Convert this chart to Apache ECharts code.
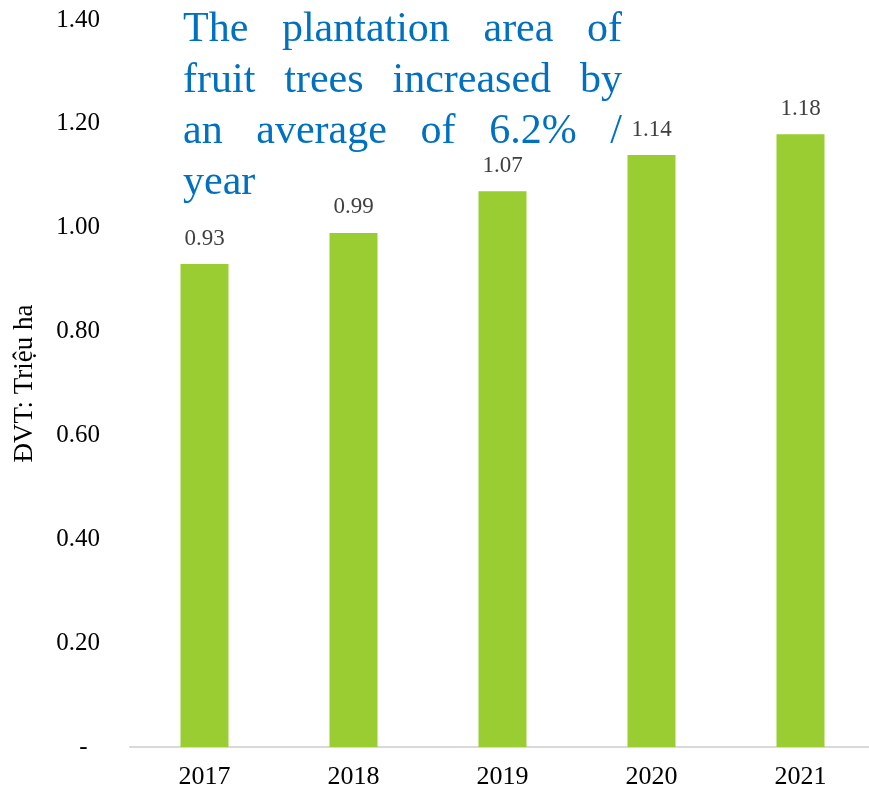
<!DOCTYPE html>
<html>
<head>
<meta charset="utf-8">
<script src="https://cdn.jsdelivr.net/npm/echarts@6/dist/echarts.min.js"></script>
<style>
  html, body { margin: 0; padding: 0; background: #ffffff; }
  #chart { width: 869px; height: 791px; }
</style>
</head>
<body>
<div id="chart"></div>
<script>
// Fruit tree plantation area by year (million ha)
const years = ['2017', '2018', '2019', '2020', '2021'];
const areas = [0.93, 0.99, 1.07, 1.14, 1.18];
const yTicks = [0, 0.2, 0.4, 0.6, 0.8, 1.0, 1.2, 1.4];
const headlineLines = [
  ['The', 'plantation', 'area', 'of'],
  ['fruit', 'trees', 'increased', 'by'],
  ['an', 'average', 'of', '6.2%', '/'],
  ['year']
];

const SERIF = '"Liberation Serif", "Times New Roman", serif';
const HEAD_FONT_SIZE = 42;
const HEAD_FONT = HEAD_FONT_SIZE + 'px ' + SERIF;

// Build a justified text block (last line left-aligned) as graphic text elements
function justifiedBlock(lines, left, top, boxWidth, lineHeight) {
  const ctx = document.createElement('canvas').getContext('2d');
  ctx.font = HEAD_FONT;
  const elems = [];
  lines.forEach((words, li) => {
    const widths = words.map(w => ctx.measureText(w).width);
    const total = widths.reduce((a, b) => a + b, 0);
    const isLast = li === lines.length - 1;
    const gap = (isLast || words.length < 2) ? ctx.measureText(' ').width
      : (boxWidth - total) / (words.length - 1);
    let x = left;
    words.forEach((w, wi) => {
      elems.push({
        type: 'text',
        left: x,
        top: top + li * lineHeight,
        style: { text: w, font: HEAD_FONT, fill: '#0070C0' }
      });
      x += widths[wi] + gap;
    });
  });
  return elems;
}

const chart = echarts.init(document.getElementById('chart'), null, { renderer: 'canvas' });

chart.setOption({
  backgroundColor: '#ffffff',
  animation: false,
  grid: {
    left: 130, top: 20, width: 745, bottom: 44,
    containLabel: false, outerBoundsMode: 'none'
  },
  xAxis: {
    type: 'category',
    data: years,
    axisLine: { show: true, lineStyle: { color: '#d9d9d9', width: 2 } },
    axisTick: { show: false },
    axisLabel: { color: '#000000', fontFamily: SERIF, fontSize: 26, margin: 17 }
  },
  yAxis: {
    type: 'value',
    min: yTicks[0],
    max: yTicks[yTicks.length - 1],
    interval: yTicks[1] - yTicks[0],
    name: 'ĐVT: Triệu ha',
    nameLocation: 'middle',
    nameGap: 92,
    nameRotate: 90,
    nameTextStyle: { color: '#000000', fontFamily: SERIF, fontSize: 27 },
    axisLine: { show: false },
    axisTick: { show: false },
    splitLine: { show: false },
    axisLabel: {
      color: '#000000', fontFamily: SERIF, fontSize: 25, margin: 30,
      formatter: v => (Math.abs(v) < 1e-9 ? '-  ' : v.toFixed(2))
    }
  },
  series: [{
    type: 'bar',
    data: areas,
    barWidth: 48,
    itemStyle: { color: '#9acd32' },
    label: {
      show: true,
      position: 'top',
      distance: 14,
      color: '#404040',
      fontFamily: SERIF,
      fontSize: 23,
      formatter: p => p.value.toFixed(2)
    }
  }],
  graphic: justifiedBlock(headlineLines, 183, 9, 439, 51)
});
</script>
</body>
</html>
